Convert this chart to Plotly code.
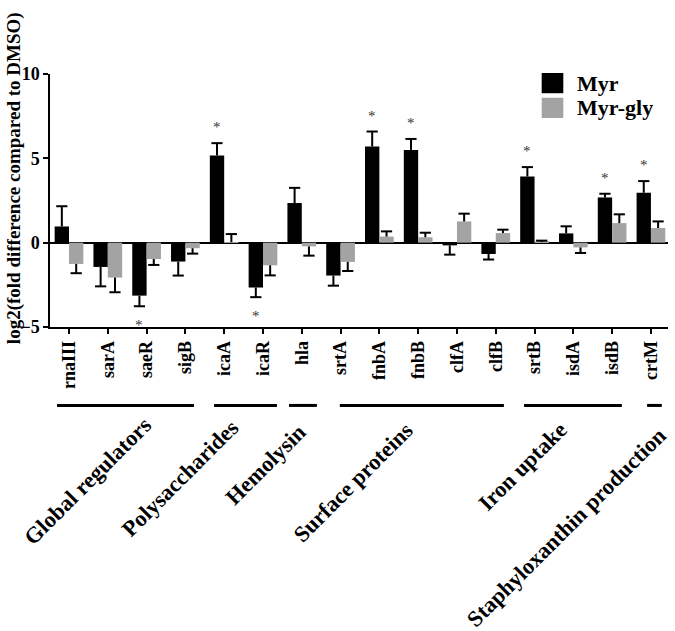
import plotly.graph_objects as go

# ---------------- data ----------------
genes = ["rnaIII", "sarA", "saeR", "sigB", "icaA", "icaR", "hla", "srtA",
         "fnbA", "fnbB", "clfA", "clfB", "srtB", "isdA", "isdB", "crtM"]
myr = [0.96, -1.44, -3.14, -1.12, 5.17, -2.66, 2.35, -1.95,
       5.70, 5.50, -0.16, -0.67, 3.92, 0.55, 2.68, 2.96]
myr_err = [1.20, 1.15, 0.63, 0.83, 0.73, 0.57, 0.90, 0.60,
           0.89, 0.65, 0.55, 0.33, 0.56, 0.42, 0.22, 0.69]
myr_gly = [-1.26, -2.07, -0.97, -0.33, 0.03, -1.34, -0.22, -1.14,
           0.36, 0.32, 1.26, 0.57, 0.04, -0.28, 1.16, 0.87]
myr_gly_err = [0.55, 0.87, 0.35, 0.32, 0.48, 0.60, 0.55, 0.54,
               0.31, 0.27, 0.46, 0.20, 0.08, 0.33, 0.52, 0.39]
myr_significant = [False, False, True, False, True, True, False, False,
                   True, True, False, False, True, False, True, True]
groups = ["Global regulators", "Polysaccharides", "Hemolysin",
          "Surface proteins", "Iron uptake", "Staphyloxanthin production"]
group_first = [0, 4, 6, 7, 12, 15]
group_last = [3, 5, 6, 11, 14, 15]
y_ticks = [-5, 0, 5, 10]

# ---------------- style ----------------
FONT = "Liberation Serif"
BLACK = "#000000"
GREY = "#a3a3a3"
BW = 0.37  # bar width (category units)

x = list(range(len(genes)))


def split_err(vals, errs):
    plus = [e if v >= 0 else 0 for v, e in zip(vals, errs)]
    minus = [0 if v >= 0 else e for v, e in zip(vals, errs)]
    ends = [v + e if v >= 0 else v - e for v, e in zip(vals, errs)]
    return plus, minus, ends


fig = go.Figure()
series = [("Myr", myr, myr_err, BLACK, -BW),
          ("Myr-gly", myr_gly, myr_gly_err, GREY, 0.0)]
cap_ends = {}
for name, vals, errs, col, off in series:
    plus, minus, ends = split_err(vals, errs)
    cap_ends[name] = ends
    fig.add_trace(go.Bar(
        x=x, y=vals, name=name, offset=off, width=BW,
        marker=dict(color=col, line=dict(width=0)),
        error_y=dict(type="data", symmetric=False, array=plus,
                     arrayminus=minus, width=0, thickness=2, color=BLACK),
        showlegend=False,
    ))
    fig.add_trace(go.Scatter(
        x=[i + off + BW / 2 for i in x], y=ends, mode="markers",
        marker=dict(symbol="line-ew", size=8,
                    line=dict(width=2, color=BLACK)),
        showlegend=False, hoverinfo="skip",
    ))

annotations = []
# significance stars
for i, sig in enumerate(myr_significant):
    if sig:
        end = cap_ends["Myr"][i]
        annotations.append(dict(
            x=i - BW / 2, y=end, xref="x", yref="y", text="*",
            showarrow=False, font=dict(family=FONT, size=15, color="#333333"),
            yshift=16 if end > 0 else -19,
        ))

# y-axis title
annotations.append(dict(
    x=-0.058, y=0.589, xref="paper", yref="paper",
    text="log2(fold difference compared to DMSO)", textangle=-90,
    showarrow=False, xanchor="center", yanchor="middle",
    font=dict(family=FONT, size=19, color=BLACK, weight="bold"),
))

# group labels (rotated)
label_pos = [(0.060, -0.609), (0.210, -0.597), (0.349, -0.542),
             (0.490, -0.613), (0.765, -0.553), (0.835, -0.791)]
for g, (px, py) in zip(groups, label_pos):
    annotations.append(dict(
        x=px, y=py, xref="paper", yref="paper", text=g, textangle=-45,
        showarrow=False, xanchor="center", yanchor="middle",
        font=dict(family=FONT, size=22.5, color=BLACK, weight="bold"),
    ))

# legend (custom, large swatches)
shapes = []
legend_rows = [("Myr", BLACK, 0.964), ("Myr-gly", GREY, 0.866)]
for name, col, yc in legend_rows:
    shapes.append(dict(type="rect", xref="paper", yref="paper",
                       x0=0.7956, x1=0.8306, y0=yc - 0.04, y1=yc + 0.04,
                       fillcolor=col, line=dict(width=0)))
    annotations.append(dict(
        x=0.849, y=yc, xref="paper", yref="paper", text=name,
        showarrow=False, xanchor="left", yanchor="middle",
        font=dict(family=FONT, size=22, color=BLACK, weight="bold"),
    ))

# group bracket lines
line_pad = [(-0.31, 0.22), (-0.26, 0.36), (-0.33, 0.39),
            (-0.02, 0.21), (-0.27, 0.25), (-0.10, 0.28)]
for a, b, (pl, pr) in zip(group_first, group_last, line_pad):
    shapes.append(dict(type="line", xref="x", yref="paper",
                       x0=a + pl, x1=b + pr, y0=-0.310, y1=-0.310,
                       line=dict(color=BLACK, width=3)))

fig.update_layout(
    width=675, height=631, autosize=False,
    margin=dict(l=50, r=7, t=74, b=304),
    paper_bgcolor="white", plot_bgcolor="white",
    barmode="overlay",
    annotations=annotations, shapes=shapes,
    font=dict(family=FONT, color=BLACK),
    xaxis=dict(
        range=[-0.49, 15.44], tickmode="array", tickvals=x, ticktext=genes,
        tickangle=-90, ticks="outside", ticklen=5, tickwidth=1.5,
        tickcolor=BLACK, showline=True, linecolor=BLACK, linewidth=1.5,
        showgrid=False, zeroline=False,
        tickfont=dict(family=FONT, size=18, color=BLACK, weight="bold"),
    ),
    yaxis=dict(
        range=[-5, 10], tickmode="array", tickvals=y_ticks,
        ticks="outside", ticklen=5, tickwidth=1.5, tickcolor=BLACK,
        showline=True, linecolor=BLACK, linewidth=1.5, showgrid=False,
        zeroline=True, zerolinecolor=BLACK, zerolinewidth=1.5,
        tickfont=dict(family=FONT, size=18, color=BLACK, weight="bold"),
    ),
)

fig.write_html("out.html",
               config={"displayModeBar": False},
               post_script="document.body.style.margin='0';"
                           "document.body.style.overflow='hidden';")
